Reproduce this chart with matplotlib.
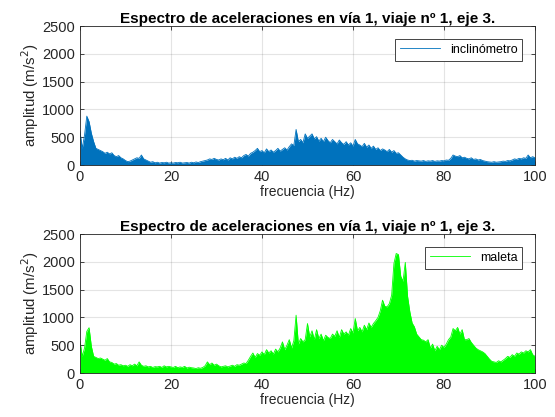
import numpy as np
import matplotlib.pyplot as plt

plt.rcParams['font.family'] = ['Liberation Sans', 'DejaVu Sans']

# frecuencias cada 0.5 Hz (0 .. 100)
freq = np.arange(0, 100.5, 0.5)

# espectro del inclinómetro (m/s^2)
amp_inclinometro = [
    600, 300, 540, 880, 780, 570, 420, 300, 280, 260,
    240, 210, 230, 200, 220, 170, 150, 170, 130, 110,
    80, 60, 70, 90, 110, 130, 120, 180, 110, 90,
    70, 50, 60, 40, 50, 35, 45, 40, 50, 35,
    40, 35, 45, 40, 50, 35, 40, 45, 35, 50,
    40, 55, 45, 60, 70, 80, 90, 110, 100, 120,
    100, 90, 110, 95, 120, 90, 130, 110, 140, 120,
    150, 130, 170, 190, 160, 210, 230, 260, 300, 240,
    260, 220, 290, 240, 270, 230, 260, 300, 250, 280,
    310, 270, 330, 380, 350, 640, 420, 460, 400, 560,
    480, 520, 560, 470, 510, 430, 480, 420, 500, 440,
    400, 460, 420, 380, 450, 400, 370, 420, 360, 400,
    340, 460, 380, 360, 330, 390, 320, 360, 300, 340,
    280, 310, 260, 290, 270, 240, 280, 230, 260, 210,
    220, 180, 140, 110, 90, 80, 85, 70, 80, 75,
    70, 80, 65, 75, 70, 80, 65, 75, 70, 80,
    75, 90, 85, 120, 180, 160, 150, 170, 130, 140,
    120, 110, 130, 100, 110, 90, 100, 80, 70, 60,
    55, 50, 60, 50, 55, 60, 70, 65, 80, 75,
    90, 110, 100, 120, 110, 130, 120, 180, 130, 150,
    130,
]

# espectro de la maleta (m/s^2)
amp_maleta = [
    570, 300, 450, 750, 815, 480, 300, 280, 260, 270,
    250, 230, 260, 200, 190, 160, 170, 140, 150, 130,
    140, 120, 150, 130, 160, 130, 200, 140, 120, 130,
    110, 120, 100, 115, 110, 120, 100, 130, 110, 120,
    110, 100, 120, 95, 110, 100, 120, 90, 105, 95,
    90, 80, 95, 85, 100, 130, 200, 150, 180, 140,
    160, 130, 110, 120, 130, 110, 125, 140, 120, 150,
    140, 160, 180, 170, 230, 300, 360, 280, 350, 320,
    380, 330, 420, 360, 400, 340, 430, 380, 450, 560,
    420, 500, 600, 450, 580, 1040, 520, 620, 560, 600,
    890, 650, 760, 600, 780, 620, 700, 580, 680, 640,
    620, 700, 660, 760, 640, 780, 700, 740, 680, 800,
    720, 980, 760, 820, 740, 860, 780, 900, 820, 890,
    940, 1000, 1120, 1310, 1200, 1190, 1250, 1400, 1970, 2150,
    2130, 1740, 1650, 1990, 1380, 1100, 900, 830, 700, 650,
    600, 590, 560, 600, 450, 520, 400, 480, 420, 500,
    460, 520, 600, 650, 800, 760, 820, 700, 780, 600,
    600, 620, 550, 500, 450, 420, 400, 380, 350, 300,
    250, 210, 200, 190, 220, 200, 230, 260, 300, 280,
    330, 300, 360, 340, 380, 360, 400, 380, 420, 330,
    300,
]

titulo = 'Espectro de aceleraciones en vía 1, viaje nº 1, eje 3.'
x_ticks = [0, 20, 40, 60, 80, 100]
y_ticks = [0, 500, 1000, 1500, 2000, 2500]

fig = plt.figure(figsize=(5.55, 4.17), dpi=100)
ax1 = fig.add_axes([0.1441, 0.6043, 0.8198, 0.3333])
ax2 = fig.add_axes([0.1441, 0.1055, 0.8198, 0.3333])

series = [
    (ax1, amp_inclinometro, '#0072BD', 'inclinómetro'),
    (ax2, amp_maleta, '#00FF00', 'maleta'),
]

for ax, amp, color, nombre in series:
    ax.fill_between(freq, 0, amp, color=color, lw=0)
    ax.plot(freq, amp, color=color, lw=0.6, label=nombre)
    ax.set_xlim(0, 100)
    ax.set_ylim(0, 2500)
    ax.set_xticks(x_ticks)
    ax.set_yticks(y_ticks)
    ax.grid(True, color='#262626', alpha=0.12, lw=0.8)
    ax.set_axisbelow(True)
    ax.tick_params(direction='in', top=True, right=True, labelsize=10.5,
                   colors='#262626', length=3, width=0.6)
    for sp in ax.spines.values():
        sp.set_color('#262626')
        sp.set_linewidth(0.6)
    ax.set_xlabel('frecuencia (Hz)', fontsize=10, color='#262626', labelpad=1)
    ax.set_ylabel('amplitud (m/s$^2$)', fontsize=10.8, color='#262626', labelpad=1)
    ax.set_title(titulo, fontsize=11, fontweight='bold', pad=2)
    leg = ax.legend(loc='upper right', fontsize=9, fancybox=False,
                    edgecolor='#262626', framealpha=1, handlelength=3.2,
                    borderaxespad=1.0)
    leg.get_frame().set_linewidth(0.6)

fig.savefig('out.png', dpi=100)
